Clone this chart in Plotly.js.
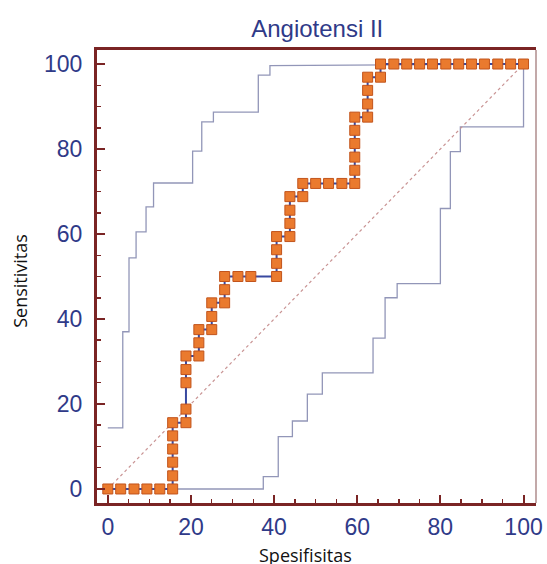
<!DOCTYPE html>
<html>
<head>
<meta charset="utf-8">
<script src="https://cdn.plot.ly/plotly-3.0.1.min.js"></script>
<style>html,body{margin:0;padding:0;background:#fff;}#chart{width:547px;height:564px;}</style>
</head>
<body>
<div id="chart"></div>
<script>
// ROC curve (100 - specificity, sensitivity)
const rocX = [0, 3.1, 6.3, 9.4, 12.5, 15.6, 15.6, 15.6, 15.6, 15.6, 15.6, 18.8, 18.8, 18.8, 18.8, 18.8, 21.9, 21.9, 21.9, 25, 25, 25, 28.1, 28.1, 28.1, 31.3, 34.4, 40.6, 40.6, 40.6, 40.6, 43.8, 43.8, 43.8, 43.8, 46.9, 46.9, 50, 53.1, 56.3, 59.4, 59.4, 59.4, 59.4, 59.4, 59.4, 62.5, 62.5, 62.5, 62.5, 65.6, 65.6, 68.8, 71.9, 75, 78.1, 81.3, 84.4, 87.5, 90.6, 93.8, 96.9, 100];
const rocY = [0, 0, 0, 0, 0, 0, 3.1, 6.3, 9.4, 12.5, 15.6, 15.6, 18.8, 25, 28.1, 31.3, 31.3, 34.4, 37.5, 37.5, 40.6, 43.8, 43.8, 46.9, 50, 50, 50, 50, 53.1, 56.3, 59.4, 59.4, 62.5, 65.6, 68.8, 68.8, 71.9, 71.9, 71.9, 71.9, 71.9, 75, 78.1, 81.3, 84.4, 87.5, 87.5, 90.6, 93.8, 96.9, 96.9, 100, 100, 100, 100, 100, 100, 100, 100, 100, 100, 100, 100];

// Upper confidence bound
const upX = [0, 3.6, 3.6, 5.1, 5.1, 6.8, 6.8, 9.2, 9.2, 11, 11, 20.4, 20.4, 22.6, 22.6, 25.4, 25.4, 36.2, 36.2, 39, 39, 100];
const upY = [14.4, 14.4, 37, 37, 54.4, 54.4, 60.5, 60.5, 66.4, 66.4, 72, 72, 79.5, 79.5, 86.4, 86.4, 88.7, 88.7, 97.4, 97.4, 99.6, 100];

// Lower confidence bound
const loX = [0, 37.4, 37.4, 41, 41, 44.4, 44.4, 48, 48, 51.6, 51.6, 63.8, 63.8, 66.7, 66.7, 69.6, 69.6, 80, 80, 82.4, 82.4, 84.8, 84.8, 100, 100];
const loY = [0, 0, 2.9, 2.9, 12.3, 12.3, 16, 16, 22.3, 22.3, 27.3, 27.3, 35.5, 35.5, 45, 45, 48.3, 48.3, 66, 66, 79.4, 79.4, 85.2, 85.2, 100];

// Reference diagonal
const diagX = [0, 100];
const diagY = [0, 100];

const xTicks = [0, 20, 40, 60, 80, 100];
const yTicks = [0, 20, 40, 60, 80, 100];

const axisColor = '#7a2424';
const navy = '#2f3a88';

const traces = [
  {x: upX, y: upY, mode: 'lines', line: {color: '#9296b8', width: 1.3}, hoverinfo: 'skip'},
  {x: loX, y: loY, mode: 'lines', line: {color: '#9296b8', width: 1.3}, hoverinfo: 'skip'},
  {x: diagX, y: diagY, mode: 'lines', line: {color: '#c99494', width: 1.2, dash: 'dot'}, hoverinfo: 'skip'},
  {x: rocX, y: rocY, mode: 'lines+markers',
   line: {color: '#3848a0', width: 2},
   marker: {symbol: 'square', size: 10, color: '#ea7a2e', line: {color: '#c2541c', width: 1}}}
];

const layout = {
  width: 547, height: 564,
  margin: {l: 96.5, r: 11, t: 50, b: 61},
  paper_bgcolor: '#ffffff', plot_bgcolor: '#ffffff',
  showlegend: false,
  title: {text: 'Angiotensi II', x: 0.58, xanchor: 'center', y: 0.95, yanchor: 'middle',
          font: {family: 'Liberation Sans, Arial, sans-serif', size: 24, color: navy}},
  xaxis: {range: [-2.6, 103], tickvals: xTicks, ticktext: xTicks.map(String),
          showgrid: false, zeroline: false, showline: true, mirror: true,
          linecolor: axisColor, linewidth: 3,
          ticks: 'inside', ticklen: 8, tickwidth: 2, tickcolor: axisColor,
          minor: {dtick: 5, tick0: 0, ticks: 'inside', ticklen: 4, tickwidth: 1.5, tickcolor: axisColor, showgrid: false},
          ticklabelstandoff: 1,
          tickfont: {family: 'Liberation Sans, Arial, sans-serif', size: 23, color: navy}},
  yaxis: {range: [-3.3, 103.3], tickvals: yTicks, ticktext: yTicks.map(String),
          showgrid: false, zeroline: false, showline: true, mirror: false,
          linecolor: axisColor, linewidth: 3,
          ticks: 'inside', ticklen: 8, tickwidth: 2, tickcolor: axisColor,
          minor: {dtick: 5, tick0: 0, ticks: 'inside', ticklen: 4, tickwidth: 1.5, tickcolor: axisColor, showgrid: false},
          ticklabelstandoff: 7,
          tickfont: {family: 'Liberation Sans, Arial, sans-serif', size: 23, color: navy}},
  shapes: [
    {type: 'line', xref: 'paper', yref: 'paper', x0: 1, x1: 1, y0: 0, y1: 1,
     line: {color: '#9a7070', width: 1.2}}
  ],
  annotations: [
    {text: 'Sensitivitas', xref: 'paper', yref: 'paper', x: -0.176, y: 0.49,
     xanchor: 'center', yanchor: 'middle', textangle: -90, showarrow: false,
     font: {family: 'Open Sans, Noto Sans, sans-serif', size: 18, color: '#111111'}},
    {text: 'Spesifisitas', xref: 'paper', yref: 'paper', x: 0.474, y: -0.083,
     xanchor: 'center', yanchor: 'top', showarrow: false,
     font: {family: 'Open Sans, Noto Sans, sans-serif', size: 18, color: '#111111'}}
  ]
};

Plotly.newPlot('chart', traces, layout, {displayModeBar: false, staticPlot: true});
</script>
</body>
</html>
